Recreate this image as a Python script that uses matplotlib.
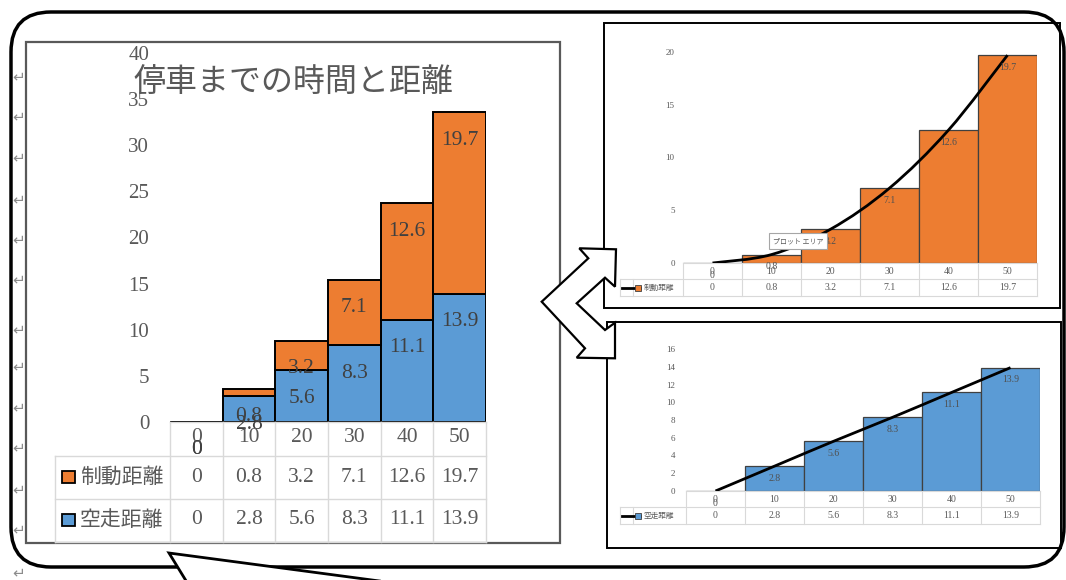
import matplotlib.pyplot as plt
import numpy as np
from matplotlib.patches import FancyBboxPatch, Polygon, Rectangle, PathPatch
from matplotlib.path import Path
from matplotlib.lines import Line2D
from matplotlib.transforms import blended_transform_factory

plt.rcParams['font.family'] = ['Liberation Serif', 'Noto Sans CJK JP']

# data
speeds = ['0', '10', '20', '30', '40', '50']
kuso = [0, 2.8, 5.6, 8.3, 11.1, 13.9]      # 空走距離
seido = [0, 0.8, 3.2, 7.1, 12.6, 19.7]     # 制動距離
title = '停車までの時間と距離'
name_kuso = '空走距離'
name_seido = '制動距離'
ticks_main = [0, 5, 10, 15, 20, 25, 30, 35, 40]
ticks_seido = [0, 5, 10, 15, 20]
ticks_kuso = [0, 2, 4, 6, 8, 10, 12, 14, 16]

ORANGE = '#ED7D31'
BLUE = '#5B9BD5'
GRAY = '#595959'
DARK = '#404040'
GRID = '#D9D9D9'
JP = ['Noto Sans CJK JP', 'DejaVu Sans']

W, H = 1066, 580
fig = plt.figure(figsize=(W / 100, H / 100), dpi=100)


def box(l, t, r, b):
    return [l / W, 1 - b / H, (r - l) / W, (b - t) / H]


def fmt(v):
    return f'{v:g}'


def smooth(xs, ys):
    # smoothed line like Excel (catmull-rom -> bezier)
    p = np.column_stack([xs, ys]).astype(float)
    n = len(p)
    verts = [p[0]]
    codes = [Path.MOVETO]
    for i in range(n - 1):
        p0, p1, p2, p3 = p[max(i - 1, 0)], p[i], p[i + 1], p[min(i + 2, n - 1)]
        verts += [p1 + (p2 - p0) / 6, p2 - (p3 - p1) / 6, p2]
        codes += [Path.CURVE4] * 3
    return Path(verts, codes)


# background: word page decorations
bg = fig.add_axes([0, 0, 1, 1], zorder=0)
bg.set_xlim(0, W)
bg.set_ylim(H, 0)
bg.axis('off')
bg.add_patch(FancyBboxPatch((11, 12), 1053, 555, boxstyle='round,pad=0,rounding_size=40',
                            fill=False, ec='black', lw=2.5))
for y in [77, 117, 158, 200, 240, 280, 330, 367, 408, 448, 490, 530, 573]:
    bg.text(19, y, '↵', fontsize=11, color='#8c8c8c', family='DejaVu Sans', ha='center', va='center')
bg.add_patch(Rectangle((26, 42), 534, 501, fill=False, ec=GRAY, lw=1.6))
bg.add_patch(Rectangle((604, 23), 456, 285, fill=False, ec='black', lw=1.4))
bg.add_patch(Rectangle((607, 322), 454, 226, fill=False, ec='black', lw=1.4))
bg.text(293, 83, title, fontsize=23, color=GRAY, family=JP, ha='center', va='center')

# main stacked chart
ax = fig.add_axes(box(170, 53, 486, 422), zorder=1)
ax.patch.set_visible(False)
x = np.arange(len(speeds))
ax.bar(x, kuso, width=1, color=BLUE, ec='black', lw=1.4)
ax.bar(x, seido, bottom=kuso, width=1, color=ORANGE, ec='black', lw=1.4)
ax.set_xlim(-0.5, len(speeds) - 0.5)
ax.set_ylim(0, 40)
ax.set_yticks(ticks_main)
ax.set_xticks([])
ax.tick_params(axis='y', length=0, pad=15, labelsize=15, labelcolor=GRAY)
for s in ax.spines.values():
    s.set_visible(False)
for i in x:
    ax.annotate(fmt(kuso[i]), (i, kuso[i]), xytext=(0, -28), textcoords='offset pixels',
                ha='center', va='center', fontsize=15.5, color=DARK)
    ax.annotate(fmt(seido[i]), (i, kuso[i] + seido[i]), xytext=(0, -28), textcoords='offset pixels',
                ha='center', va='center', fontsize=15.5, color=DARK)

# data table under main chart
tr = blended_transform_factory(ax.transData, ax.transAxes)
colw = 316 / len(speeds)
xd = lambda px: -0.5 + (px - 170) / colw
yf = lambda py: (422 - py) / 369
xr = len(speeds) - 0.5
for py, x0 in [(422, -0.5), (456, xd(55)), (499, xd(55)), (542, xd(55))]:
    ax.add_line(Line2D([x0, xr], [yf(py)] * 2, transform=tr, color=GRID, lw=1, clip_on=False))
for k in range(len(speeds) + 1):
    ax.add_line(Line2D([k - 0.5] * 2, [yf(422), yf(542)], transform=tr, color=GRID, lw=1, clip_on=False))
ax.add_line(Line2D([xd(55)] * 2, [yf(456), yf(542)], transform=tr, color=GRID, lw=1, clip_on=False))
for i in x:
    ax.text(i, yf(438), speeds[i], transform=tr, ha='center', va='center', fontsize=15.5, color=GRAY)
    ax.text(i, yf(477), fmt(seido[i]), transform=tr, ha='center', va='center', fontsize=15.5, color=GRAY)
    ax.text(i, yf(520), fmt(kuso[i]), transform=tr, ha='center', va='center', fontsize=15.5, color=GRAY)
for py, c, name in [(477, ORANGE, name_seido), (520, BLUE, name_kuso)]:
    ax.add_patch(Rectangle((xd(62), yf(py + 6)), xd(75) - xd(62), yf(py - 6) - yf(py + 6),
                           transform=tr, fc=c, ec='black', lw=1.3, clip_on=False))
    ax.text(xd(80), yf(py), name, transform=tr, ha='left', va='center', fontsize=15, color=GRAY, family=JP)


def small_chart(l, t, r, b, vals, color, name, ticks, tick_pad):
    a = fig.add_axes(box(l, t, r, b), zorder=1)
    a.patch.set_visible(False)
    xs = np.arange(len(vals))
    a.bar(xs, vals, width=1, color=color, ec=DARK, lw=0.9)
    a.add_patch(PathPatch(smooth(xs, vals), fill=False, ec='black', lw=2, zorder=3))
    a.set_xlim(-0.5, len(vals) - 0.5)
    a.set_ylim(0, ticks[-1])
    a.set_yticks(ticks)
    a.set_xticks([])
    a.tick_params(axis='y', length=0, pad=tick_pad, labelsize=6.5, labelcolor=GRAY)
    for s in a.spines.values():
        s.set_visible(False)
    for i in xs:
        a.annotate(fmt(vals[i]), (i, vals[i]), xytext=(0, -12), textcoords='offset pixels',
                   ha='center', va='center', fontsize=7, color='#505050')
    t2 = blended_transform_factory(a.transData, a.transAxes)
    cw = (r - l) / len(vals)
    xp = lambda px: -0.5 + (px - l) / cw
    yp = lambda py: (b - py) / (b - t)
    right = len(vals) - 0.5
    for py, x0 in [(b, -0.5), (b + 16, xp(620)), (b + 33, xp(620))]:
        a.add_line(Line2D([x0, right], [yp(py)] * 2, transform=t2, color=GRID, lw=0.8, clip_on=False))
    for k in range(len(vals) + 1):
        a.add_line(Line2D([k - 0.5] * 2, [yp(b), yp(b + 33)], transform=t2, color=GRID, lw=0.8, clip_on=False))
    for px in [620, 633]:
        a.add_line(Line2D([xp(px)] * 2, [yp(b + 16), yp(b + 33)], transform=t2, color=GRID, lw=0.8, clip_on=False))
    for i in xs:
        a.text(i, yp(b + 8), speeds[i], transform=t2, ha='center', va='center', fontsize=7, color=GRAY)
        a.text(i, yp(b + 24.5), fmt(vals[i]), transform=t2, ha='center', va='center', fontsize=7, color=GRAY)
    a.add_line(Line2D([xp(622), xp(640)], [yp(b + 24.5)] * 2, transform=t2, color='black', lw=2, clip_on=False))
    a.add_line(Line2D([xp(638)], [yp(b + 24.5)], transform=t2, marker='s', ms=4, mfc=color, mec=DARK,
                      mew=0.6, ls='none', clip_on=False))
    a.text(xp(644), yp(b + 24.5), name, transform=t2, ha='left', va='center', fontsize=5.5, color=GRAY, family=JP)
    return a


small_chart(683, 52, 1037, 263, seido, ORANGE, name_seido, ticks_seido, 6)
small_chart(686, 349, 1040, 491, kuso, BLUE, name_kuso, ticks_kuso, 8)

# overlay: arrows, callout, tooltip
ov = fig.add_axes([0, 0, 1, 1], zorder=2)
ov.set_xlim(0, W)
ov.set_ylim(H, 0)
ov.axis('off')
arrow = [(541.7, 301.7), (588.3, 258.3), (579.3, 248.3), (616, 249.3), (615, 286.7),
         (605, 277.7), (576.7, 303.3), (605, 330), (615, 322.7), (615, 358.3),
         (576.7, 357.7), (585, 348.3)]
ov.add_patch(Polygon(arrow, closed=True, fc='white', ec='black', lw=1.6, joinstyle='miter'))
ov.add_patch(Polygon([(169, 553), (188, 584), (402, 584)], closed=True, fc='white', ec='none'))
ov.plot([188, 169, 402], [584, 553, 584], color='black', lw=2, solid_joinstyle='miter')
ov.text(798, 241, 'プロット エリア', fontsize=5, color=GRAY, family=JP, ha='center', va='center',
        bbox=dict(boxstyle='square,pad=0.6', fc='white', ec='#a6a6a6', lw=0.8))

fig.savefig('out.png', dpi=100)
